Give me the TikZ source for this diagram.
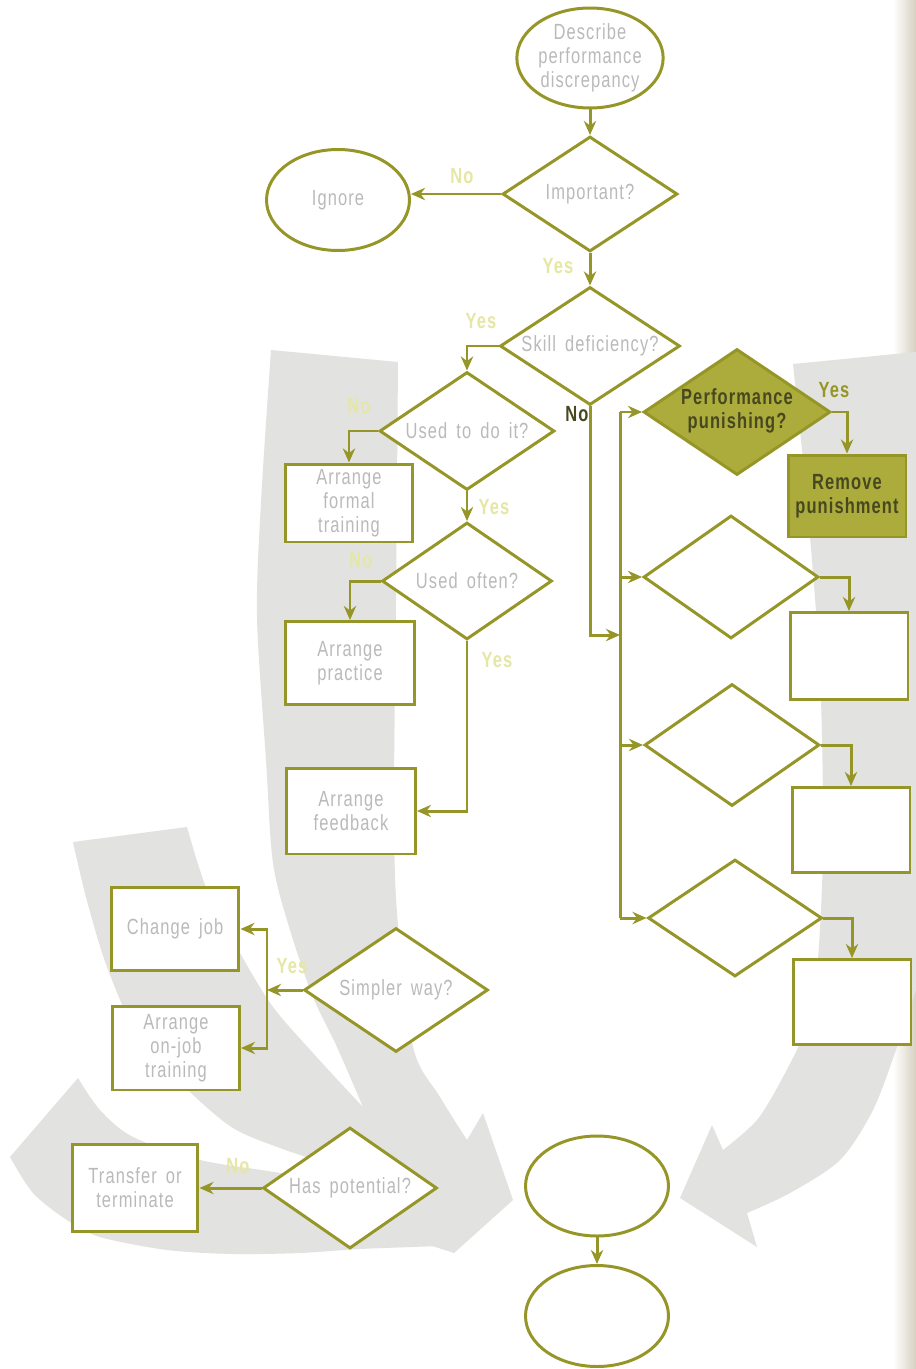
\documentclass[tikz,border=0pt]{standalone}
\usepackage{fontspec}
\setmainfont{Liberation Sans}[FakeStretch=0.75,LetterSpace=5,WordSpace=1.6]
\usepackage{tikz}
\usetikzlibrary{arrows.meta,shapes,calc,positioning}
\definecolor{oliva}{RGB}{150,150,40}
\definecolor{olivaRelleno}{RGB}{172,172,60}
\definecolor{olivaOscuro}{RGB}{72,72,32}
\definecolor{grisTexto}{RGB}{186,186,186}
\definecolor{amarillo}{RGB}{230,230,165}
\definecolor{fondo}{RGB}{226,226,224}
\definecolor{pliegue}{RGB}{214,208,192}
\newcommand{\letra}{\fontsize{12.5}{13.5}\selectfont}
\newcommand{\pregunta}[1]{\makebox[0pt]{#1}}
\tikzstyle{edge}   =[draw=oliva, line width=1.7pt,
                    >={Stealth[length=8pt,width=7pt]}]
\tikzstyle{dvertex}=[diamond, draw=oliva, fill=white,
                    line width=1.7pt, inner sep=0pt,
                    text=grisTexto]
\tikzstyle{bvertex}=[rectangle, draw=oliva, fill=white,
                    line width=1.7pt, inner sep=0pt,
                    align=center, text=grisTexto]
\tikzstyle{evertex}=[ellipse, draw=oliva, fill=white,
                    line width=1.7pt, inner sep=0pt,
                    align=center, text=grisTexto]
\tikzstyle{etiqueta}=[inner sep=0pt, text=amarillo,
                    font=\letra\bfseries]
\tikzstyle{fuerte}=[inner sep=0pt, font=\letra\bfseries]

\begin{document}
\begin{tikzpicture}[x=0.02cm,y=-0.02cm,font=\letra]

        \useasboundingbox (0,0) rectangle (916,1369);
        \fill[white] (0,0) rectangle (916,1369);

        % grey arrows behind the chart
        \shade[left color=white, right color=pliegue] (893,0) rectangle (916,1369);

        \fill[fondo] (271,350) -- (398,362)
            -- plot[smooth] coordinates {(398,362) (396,600) (394,800) (397,913)
                (413,1047) (440,1097) (467,1140)}
            -- (483,1113) -- (513,1200) -- (454,1253) -- (420,1242) -- (390,1170)
            -- plot[smooth] coordinates {(363,1107) (337,1047) (313,997) (290,930)
                (273,863) (266,760) (257,617) (261,502) (271,350)}
            -- cycle;

        \fill[fondo] (73,842) -- (187,827)
            -- plot[smooth] coordinates {(187,827) (207,890) (240,953) (273,1007)
                (313,1053) (347,1090) (363,1107)}
            -- (430,1215)
            -- plot[smooth] coordinates {(420,1200) (350,1172) (280,1148) (233,1128)
                (190,1092) (140,1040) (107,967) (86,897) (73,842)}
            -- cycle;

        \fill[fondo] (78,1078)
            -- plot[smooth] coordinates {(78,1078) (100,1110) (133,1137) (200,1160)
                (280,1173) (360,1190) (430,1205)}
            -- (440,1246)
            -- plot[smooth] coordinates {(440,1246) (360,1249) (300,1253) (233,1254)
                (167,1250) (100,1237) (67,1220) (33,1193) (10,1157)}
            -- cycle;

        \fill[fondo] (793,364) -- (916,352) -- (916,990)
            -- plot[smooth] coordinates {(916,990) (897,1047) (873,1110) (840,1160)
                (790,1193) (747,1213)}
            -- (757,1247) -- (680,1198) -- (712,1125) -- (723,1150)
            -- plot[smooth] coordinates {(723,1150) (757,1120) (783,1077) (805,1030)
                (817,970) (823,847) (820,674) (807,502) (793,364)}
            -- cycle;

        % main column
        \draw (590,58) node(describe)[evertex, minimum width=2.92cm,
            minimum height=2cm]{Describe\\performance\\discrepancy};
        \draw (590,194) node(important)[dvertex, minimum width=3.5cm,
            minimum height=2.3cm]{\pregunta{Important?}};
        \draw (338,200) node(ignore)[evertex, minimum width=2.86cm,
            minimum height=2.02cm]{Ignore};
        \draw (590,346) node(skill)[dvertex, minimum width=3.6cm,
            minimum height=2.36cm]{\pregunta{Skill deficiency?}};

        % skill branch
        \draw (467,431) node(used)[dvertex, minimum width=3.5cm,
            minimum height=2.36cm]{\pregunta{Used to do it?}};
        \draw (467,581) node(often)[dvertex, minimum width=3.4cm,
            minimum height=2.34cm]{\pregunta{Used often?}};
        \draw (349,503) node(formal)[bvertex, minimum width=2.56cm,
            minimum height=1.56cm]{Arrange\\formal\\training};
        \draw (350,663) node(practice)[bvertex, minimum width=2.6cm,
            minimum height=1.66cm]{Arrange\\practice};
        \draw (351,811) node(feedback)[bvertex, minimum width=2.58cm,
            minimum height=1.72cm]{Arrange\\feedback};

        % right column
        \draw (737,412) node(punish)[dvertex, fill=olivaRelleno,
            text=olivaOscuro, font=\letra\bfseries, minimum width=3.74cm,
            minimum height=2.52cm]{\pregunta{\begin{tabular}{@{}c@{}}Performance\\
            punishing?\end{tabular}}};
        \draw (847,496) node(remove)[bvertex, fill=olivaRelleno,
            text=olivaOscuro, font=\letra\bfseries, minimum width=2.36cm,
            minimum height=1.64cm]{Remove\\punishment};

        \foreach \n/\x/\y/\w/\h in {q2/731/577/3.5/2.46,q3/732/745/3.5/2.44,
            q4/735/918/3.48/2.34}
            \draw (\x,\y) node(\n)[dvertex, minimum width=\w cm,
                minimum height=\h cm]{};
        \foreach \n/\x/\y/\h in {r2/849/656/1.74,r3/851/830/1.7,r4/852/1002/1.7}
            \draw (\x,\y) node(\n)[bvertex, minimum width=2.36cm,
                minimum height=\h cm]{};

        % lower left
        \draw (396,990) node(simpler)[dvertex, minimum width=3.68cm,
            minimum height=2.48cm]{\pregunta{Simpler way?}};
        \draw (175,929) node(change)[bvertex, minimum width=2.56cm,
            minimum height=1.66cm]{Change job};
        \draw (176,1048) node(onjob)[bvertex, minimum width=2.54cm,
            minimum height=1.68cm]{Arrange\\on-job\\training};
        \draw (350,1188) node(potential)[dvertex, minimum width=3.48cm,
            minimum height=2.42cm]{\pregunta{Has potential?}};
        \draw (135,1188) node(transfer)[bvertex, minimum width=2.52cm,
            minimum height=1.74cm]{Transfer or\\terminate};

        % bottom
        \draw (597,1186) node(end1)[evertex, minimum width=2.86cm,
            minimum height=2cm]{};
        \draw (597,1316) node(end2)[evertex, minimum width=2.86cm,
            minimum height=2.02cm]{};

        \coordinate (busTop) at (620,412);
        \coordinate (busBot) at (620,918);
        \coordinate (busNo) at (620,635);
        \coordinate (brk) at (267,990);

        % connectors
        \draw [edge,->] (describe) -- (important);
        \draw [edge,->] (important.west) -- (ignore.east |- important.west);
        \draw [edge,->] (important) -- (skill);
        \draw [edge,->] (skill.west) -| (used.north);
        \draw [edge,->] (used.west) -| (formal.north);
        \draw [edge,->] (used) -- (often);
        \draw [edge,->] (often.west) -| (practice.north);
        \draw [edge,->] (often.south) |- (feedback.east);
        \draw [edge,->] (skill.south) |- (busNo);
        \draw [edge] (busTop) -- (busBot);

        \foreach \n in {punish,q2,q3,q4}
            \draw [edge,->] (busTop |- \n.west) -- (\n.west);
        \foreach \n/\m in {punish/remove,q2/r2,q3/r3,q4/r4}
            \draw [edge,->] (\n.east) -| (\m.north);

        \draw [edge,->] (simpler.west) -- (brk);
        \draw [edge,->] (brk) |- (change.east);
        \draw [edge,->] (brk) |- (onjob.east);
        \draw [edge,->] (potential) -- (transfer);
        \draw [edge,->] (end1) -- (end2);

        % yes / no
        \draw (462,176) node(no1)[etiqueta]{No};
        \draw (558,266) node(yes1)[etiqueta]{Yes};
        \draw (481,321) node(yes2)[etiqueta]{Yes};
        \draw (577,414) node(no2)[fuerte, text=olivaOscuro]{No};
        \draw (359,406) node(no3)[etiqueta]{No};
        \draw (494,507) node(yes3)[etiqueta]{Yes};
        \draw (361,560) node(no4)[etiqueta]{No};
        \draw (497,660) node(yes4)[etiqueta]{Yes};
        \draw (834,390) node(yes5)[fuerte, text=oliva]{Yes};
        \draw (292,966) node(yes6)[etiqueta]{Yes};
        \draw (238,1166) node(no5)[etiqueta]{No};

\end{tikzpicture}
\end{document}
